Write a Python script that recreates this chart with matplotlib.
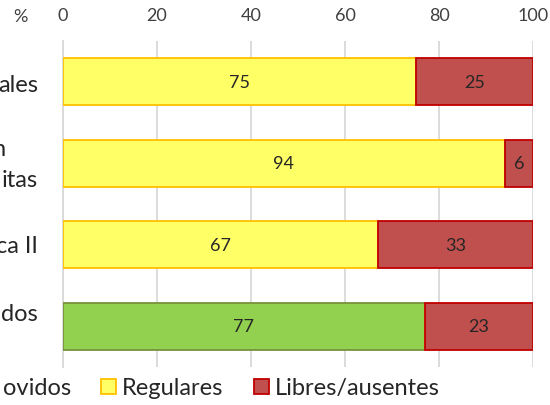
import numpy as np
import matplotlib
matplotlib.use('Agg')
import matplotlib.pyplot as plt
from matplotlib.patches import Patch

plt.rcParams['font.family'] = ['Lato', 'DejaVu Sans']

# only the right-hand ends of the labels are visible in the (cropped) chart
categories = ['ales', 'n\nitas', 'ca II', 'dos']
promovidos = [0, 0, 0, 77]
regulares = [75, 94, 67, 0]
libres = [25, 6, 33, 23]
series_names = ['ovidos', 'Regulares', 'Libres/ausentes']
xticks = [0, 20, 40, 60, 80, 100]

fig = plt.figure(figsize=(5.5, 4.06), dpi=100)
ax = fig.add_axes([63 / 550, 1 - 368 / 406, 470 / 550, 326 / 406])

y = np.arange(len(categories))
h = 0.58
styles = [('#92D050', '#77933C'), ('#FFFF66', '#FFC000'), ('#C0504D', '#C00000')]
left = np.zeros(len(categories))
for vals, (fc, ec) in zip([promovidos, regulares, libres], styles):
    vals = np.array(vals, dtype=float)
    bars = ax.barh(y, vals, left=left, height=h, color=fc, edgecolor=ec, linewidth=1.3, zorder=3)
    for b, v in zip(bars, vals):
        if v > 0:
            ax.text(b.get_x() + b.get_width() / 2, b.get_y() + b.get_height() / 2, '%d' % v,
                    ha='center', va='center', fontsize=13, color='#262626', zorder=4)
    left += vals

ax.set_xlim(0, 100)
ax.set_ylim(3.5, -0.5)
ax.set_xticks(xticks)
ax.xaxis.tick_top()
ax.tick_params(axis='x', length=0, labelsize=13, labelcolor='#404040', pad=13)
ax.set_yticks(y)
ax.set_yticklabels([])
ax.tick_params(axis='y', length=0)
ax.grid(axis='x', color='#D9D9D9', linewidth=1.3, zorder=0)
for s in ['top', 'right', 'bottom']:
    ax.spines[s].set_visible(False)
ax.spines['left'].set_color('#D9D9D9')
ax.spines['left'].set_linewidth(1.3)

# category labels: baseline offsets (points) of each visible line from the bar centre
label_lines = [[(-18, -6.8)], [(-41.5, 6.1), (-18, -16.2)], [(-18, -5.4)], [(-18, 4.5)]]
for i, lab in enumerate(categories):
    for txt, off in zip(lab.split('\n'), label_lines[i]):
        ax.annotate(txt, xy=(0, i), xytext=off, textcoords='offset points',
                    ha='right', va='baseline', fontsize=17, color='#262626')

fig.text(20 / 550, 1 - 17 / 406, '%', ha='center', va='center', fontsize=13, color='#404040')

# the green legend key lies outside the cropped area
handles = [Patch(facecolor='none', edgecolor='none')]
handles += [Patch(facecolor=fc, edgecolor=ec, linewidth=1.3) for fc, ec in styles[1:]]
fig.legend(handles, series_names, loc='center right', bbox_to_anchor=(440 / 550, 1 - 389 / 406), ncol=3,
           frameon=False, fontsize=17, handlelength=0.62, handleheight=0.62, handletextpad=0.26,
           columnspacing=1.3, borderpad=0, borderaxespad=0, labelcolor='#262626')

fig.savefig('out.png', dpi=100)
